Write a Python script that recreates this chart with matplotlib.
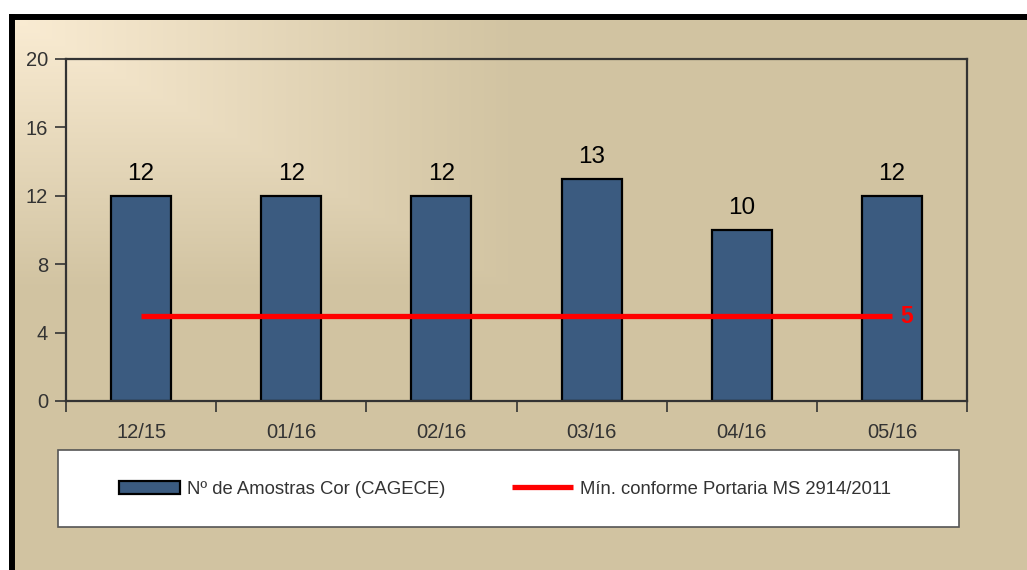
import numpy as np
import matplotlib
matplotlib.use('Agg')
import matplotlib.pyplot as plt
from matplotlib.patches import Rectangle

plt.rcParams['font.family'] = ['Liberation Sans', 'DejaVu Sans']

# dados
meses = ['12/15', '01/16', '02/16', '03/16', '04/16', '05/16']
amostras = [12, 12, 12, 13, 10, 12]
minimo = [5, 5, 5, 5, 5, 5]
nome_barras = 'Nº de Amostras Cor (CAGECE)'
nome_linha = 'Mín. conforme Portaria MS 2914/2011'

W, H = 1027, 570
fig = plt.figure(figsize=(W / 100, H / 100), dpi=100)
fig.patch.set_facecolor('white')

# fundo com degradê retangular a partir do canto superior esquerdo
bg = fig.add_axes([0, 0, 1, 1], zorder=-5)
bg.set_xlim(0, W)
bg.set_ylim(H, 0)
bg.axis('off')
x0, y0 = 15, 19
yy, xx = np.mgrid[0:H - y0, 0:W - x0]
t = np.clip(np.maximum(xx / 505.0, yy / 271.0), 0, 1)
claro = np.array([250, 236, 211]) / 255.0
base = np.array([209, 195, 161]) / 255.0
img = claro * (1 - t[..., None]) + base * t[..., None]
bg.imshow(img, extent=(x0, W, H, y0), aspect='auto', interpolation='nearest')
bg.plot([x0 - 3, W], [y0 - 2.5, y0 - 2.5], color='black', lw=4.3, solid_capstyle='butt')
bg.plot([x0 - 3, x0 - 3], [y0 - 5, H], color='black', lw=4.3, solid_capstyle='butt')

# caixa da legenda
bg.add_patch(Rectangle((58, 450), 901, 77, facecolor='white', edgecolor='#555555', lw=1.2))

ax = fig.add_axes([66 / W, 1 - 401 / H, 901 / W, 342 / H])
ax.set_facecolor('none')
x = np.arange(len(meses))
barras = ax.bar(x, amostras, width=0.4, color='#3B5B80', edgecolor='black', lw=1.6,
                label=nome_barras, zorder=2)
linha, = ax.plot(x, minimo, color='#FF0000', lw=3.8, label=nome_linha, zorder=3,
                 solid_capstyle='butt')

for xi, v in zip(x, amostras):
    ax.annotate(str(v), (xi, v), xytext=(0, 8), textcoords='offset points',
                ha='center', va='bottom', fontsize=17.5, color='black')
ax.annotate(str(minimo[-1]), (x[-1], minimo[-1]), xytext=(6, -1), textcoords='offset points',
            ha='left', va='center', fontsize=16.5, fontweight='bold', color='#FF0000')

ax.set_xlim(-0.5, len(meses) - 0.5)
ax.set_ylim(0, 20)
ax.set_yticks(np.arange(0, 21, 4))
ax.set_xticks(x)
ax.set_xticklabels(meses)
ax.set_xticks(np.arange(-0.5, len(meses), 1), minor=True)
ax.tick_params(axis='x', which='major', length=0, pad=16, labelsize=14.5, labelcolor='#333333')
ax.tick_params(axis='x', which='minor', length=8, width=1.2, color='#333333', direction='out')
ax.tick_params(axis='y', length=8, width=1.2, color='#333333', pad=5, labelsize=14.5,
               labelcolor='#333333')
for s in ax.spines.values():
    s.set_color('#333333')
    s.set_linewidth(1.6)

leg = fig.legend(handles=[barras, linha], labels=[nome_barras, nome_linha], ncol=2,
                 loc='center left', bbox_to_anchor=(119 / W, 1 - 489 / H), frameon=False,
                 borderpad=0, borderaxespad=0, fontsize=13.3, handlelength=3.3,
                 handletextpad=0.38, columnspacing=3.6)
for txt in leg.get_texts():
    txt.set_color('#333333')

fig.savefig('out.png', dpi=100)
